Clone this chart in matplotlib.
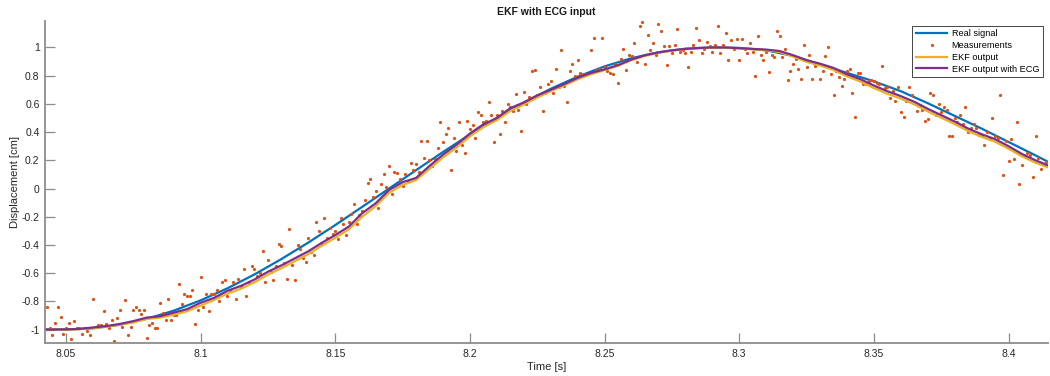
import numpy as np
import matplotlib.pyplot as plt

# real signal
real_t = [8.0423, 8.05, 8.06, 8.07, 8.08, 8.09, 8.10, 8.11, 8.12, 8.13, 8.14,
          8.15, 8.16, 8.17, 8.18, 8.19, 8.20, 8.21, 8.22, 8.23, 8.24, 8.25,
          8.26, 8.27, 8.28, 8.29, 8.30, 8.31, 8.32, 8.33, 8.34, 8.35, 8.36,
          8.37, 8.38, 8.39, 8.40, 8.41, 8.4146]
real_y = [-0.997, -1.0, -0.991, -0.966, -0.924, -0.866, -0.793, -0.707, -0.609,
          -0.5, -0.383, -0.259, -0.13, 0.0, 0.13, 0.259, 0.383, 0.5, 0.609,
          0.707, 0.793, 0.866, 0.924, 0.966, 0.991, 1.0, 0.997, 0.98, 0.94,
          0.88, 0.82, 0.76, 0.69, 0.605, 0.515, 0.425, 0.33, 0.235, 0.19]

# measurements, one per ms starting at 8.043 s
meas_t0 = 8.043
meas_dt = 0.001
meas_y = [
    -0.84, -0.99, -1.04, -0.95, -0.84, -0.91, -1.03,
    -0.99, -0.95, -1.07, -0.94, -0.99, -0.99, -1.03, -0.99, -1.01, -1.04,
    -0.78, -0.98, -0.97, -0.97, -0.87, -0.96, -0.99, -0.93, -1.08, -0.92,
    -0.86, -0.98, -0.79, -1.04, -0.98, -0.86, -0.84, -0.86, -0.89, -0.86,
    -1.06, -0.97, -0.95, -0.99, -0.99, -0.81, -0.88, -0.93, -0.78, -0.93,
    -0.90, -0.90, -0.68, -0.82, -0.75, -0.76, -0.76, -0.72, -0.96, -0.86,
    -0.63, -0.84, -0.75, -0.87, -0.745, -0.745, -0.72, -0.80, -0.66, -0.65,
    -0.76, -0.72, -0.66, -0.78, -0.64, -0.69, -0.57, -0.76, -0.66, -0.55,
    -0.57, -0.62, -0.60, -0.44, -0.66, -0.51, -0.59, -0.65, -0.55, -0.39,
    -0.41, -0.53, -0.64, -0.29, -0.54, -0.65, -0.40, -0.43, -0.49, -0.52,
    -0.35, -0.45, -0.47, -0.24, -0.30, -0.39, -0.21, -0.35, -0.28, -0.32,
    -0.30, -0.36, -0.21, -0.25, -0.33, -0.24, -0.18, -0.11, -0.25, -0.19,
    -0.16, -0.08, 0.04, 0.07, -0.06, -0.02, -0.14, 0.03, 0.10, 0.01,
    0.16, -0.04, 0.12, 0.11, 0.07, 0.02, 0.10, 0.05, 0.18, 0.13,
    0.175, 0.12, 0.335, 0.22, 0.335, 0.20, 0.16, 0.21, 0.29, 0.47,
    0.33, 0.39, 0.43, 0.13, 0.36, 0.265, 0.47, 0.31, 0.25, 0.48,
    0.42, 0.45, 0.36, 0.54, 0.52, 0.47, 0.48, 0.61, 0.52, 0.33,
    0.52, 0.385, 0.55, 0.47, 0.60, 0.58, 0.55, 0.67, 0.56, 0.41,
    0.685, 0.60, 0.65, 0.83, 0.84, 0.66, 0.72, 0.55, 0.68, 0.74,
    0.76, 0.68, 0.85, 0.72, 0.98, 0.73, 0.61, 0.83, 0.88, 0.80,
    0.91, 0.82, 0.81, 0.81, 0.81, 0.98, 1.07, 0.84, 0.85, 1.07,
    0.86, 0.835, 0.82, 0.81, 0.88, 0.75, 0.92, 0.99, 0.84, 0.95,
    0.94, 1.03, 0.90, 1.15, 1.18, 0.885, 1.085, 0.98, 1.03, 0.95,
    1.17, 1.12, 1.01, 0.875, 1.01, 0.96, 1.02, 1.13, 0.97, 0.98,
    0.96, 0.86, 0.97, 1.02, 1.14, 1.05, 0.96, 0.99, 1.04, 1.01,
    0.97, 1.02, 1.15, 0.96, 1.02, 1.10, 0.91, 1.05, 0.99, 1.06,
    0.91, 1.06, 0.99, 0.96, 1.03, 0.97, 0.80, 1.08, 0.95, 0.91,
    0.97, 0.825, 0.95, 0.93, 1.12, 1.08, 0.93, 0.99, 0.77, 0.83,
    0.88, 0.92, 0.845, 0.775, 1.02, 0.86, 0.95, 0.775, 0.87, 0.89,
    0.775, 0.83, 0.94, 1.0, 0.81, 0.66, 0.83, 0.79, 0.73, 0.78,
    0.83, 0.85, 0.68, 0.51, 0.82, 0.82, 0.74, 0.74, 0.76, 0.77,
    0.76, 0.75, 0.74, 0.87, 0.71, 0.72, 0.64, 0.69, 0.62, 0.72,
    0.54, 0.505, 0.62, 0.72, 0.66, 0.835, 0.55, 0.59, 0.56, 0.48,
    0.49, 0.68, 0.66, 0.52, 0.60, 0.54, 0.58, 0.56, 0.37, 0.37,
    0.50, 0.47, 0.52, 0.46, 0.58, 0.40, 0.43, 0.46, 0.43, 0.38,
    0.37, 0.31, 0.40, 0.35, 0.50, 0.37, 0.36, 0.66, 0.095, 0.34,
    0.196, 0.35, 0.21, 0.47, 0.033, 0.168, 0.23, 0.25, 0.24, 0.08,
    0.375, 0.22, 0.14, 0.17, 0.19,
]

# filter outputs, every 5 ms plus the two edges
ekf_t = [8.0423] + [round(8.045 + 0.005 * i, 3) for i in range(74)] + [8.4146]
ekf_y = [-1.0,
    -1.0, -1.0, -0.997, -0.99, -0.98, -0.965, -0.95, -0.925, -0.915, -0.895,
    -0.87, -0.83, -0.79, -0.745, -0.71, -0.665, -0.61, -0.565, -0.515, -0.465,
    -0.405, -0.35, -0.29, -0.2, -0.125, -0.03, 0.025, 0.06, 0.14, 0.22,
    0.29, 0.37, 0.435, 0.485, 0.55, 0.595, 0.645, 0.69, 0.73, 0.775,
    0.81, 0.84, 0.87, 0.91, 0.94, 0.962, 0.978, 0.988, 0.995, 0.998,
    0.998, 0.993, 0.987, 0.98, 0.968, 0.935, 0.898, 0.872, 0.84, 0.795,
    0.758, 0.712, 0.672, 0.637, 0.597, 0.547, 0.502, 0.457, 0.407, 0.367,
    0.332, 0.282, 0.228, 0.183,
    0.15]
ekf_ecg_y = [-1.0,
    -1.0, -0.998, -0.995, -0.985, -0.975, -0.96, -0.94, -0.915, -0.905, -0.88,
    -0.855, -0.81, -0.775, -0.725, -0.69, -0.645, -0.59, -0.545, -0.495, -0.445,
    -0.385, -0.33, -0.27, -0.175, -0.105, -0.01, 0.045, 0.075, 0.16, 0.24,
    0.31, 0.39, 0.455, 0.50, 0.57, 0.61, 0.66, 0.70, 0.74, 0.785,
    0.82, 0.845, 0.875, 0.915, 0.945, 0.965, 0.98, 0.99, 0.997, 1.0,
    1.0, 0.995, 0.99, 0.985, 0.975, 0.945, 0.91, 0.885, 0.855, 0.81,
    0.775, 0.73, 0.69, 0.655, 0.615, 0.565, 0.52, 0.475, 0.425, 0.385,
    0.35, 0.3, 0.245, 0.2,
    0.165]

meas_t = meas_t0 + meas_dt * np.arange(len(meas_y))

plt.rcParams['font.family'] = ['Liberation Sans', 'DejaVu Sans']
fig = plt.figure(figsize=(10.5, 3.76), dpi=100)
ax = fig.add_axes([0.043, 0.087, 0.955, 0.858])

ax.plot(real_t, real_y, color='#0072BD', lw=1.6, label='Real signal')
ax.plot(meas_t, meas_y, ls='none', marker='.', ms=2.6, color='#D95319', label='Measurements')
ax.plot(ekf_t, ekf_y, color='#EDB120', lw=1.6, label='EKF output')
ax.plot(ekf_t, ekf_ecg_y, color='#7E2F8E', lw=1.6, label='EKF output with ECG')

ax.set_xlim(8.0423, 8.4146)
ax.set_ylim(-1.097, 1.19)
ax.set_xticks([8.05, 8.1, 8.15, 8.2, 8.25, 8.3, 8.35, 8.4])
ax.set_xticklabels(['8.05', '8.1', '8.15', '8.2', '8.25', '8.3', '8.35', '8.4'])
yt = [-1, -0.8, -0.6, -0.4, -0.2, 0, 0.2, 0.4, 0.6, 0.8, 1]
ax.set_yticks(yt)
ax.set_yticklabels(['-1', '-0.8', '-0.6', '-0.4', '-0.2', '0', '0.2', '0.4', '0.6', '0.8', '1'])

for s in ['top', 'right']:
    ax.spines[s].set_visible(False)
for s in ['left', 'bottom']:
    ax.spines[s].set_color('#8c8c8c')
    ax.spines[s].set_linewidth(1.3)
ax.tick_params(direction='in', length=7, width=0.9, color='#8c8c8c',
               labelsize=7.5, labelcolor='#262626', pad=4)

ax.set_title('EKF with ECG input', fontsize=7.5, fontweight='bold', color='#1a1a1a', pad=4)
ax.set_xlabel('Time [s]', fontsize=8, color='#262626', labelpad=2)
ax.set_ylabel('Displacement [cm]', fontsize=8, color='#262626', labelpad=1)

leg = ax.legend(loc='upper right', fontsize=6.6, frameon=True, fancybox=False,
                framealpha=1, edgecolor='#262626', handlelength=3.4,
                borderaxespad=0.55, borderpad=0.4, labelspacing=0.3, handletextpad=0.5)
leg.get_frame().set_linewidth(0.6)

fig.savefig('out.png', dpi=100)
